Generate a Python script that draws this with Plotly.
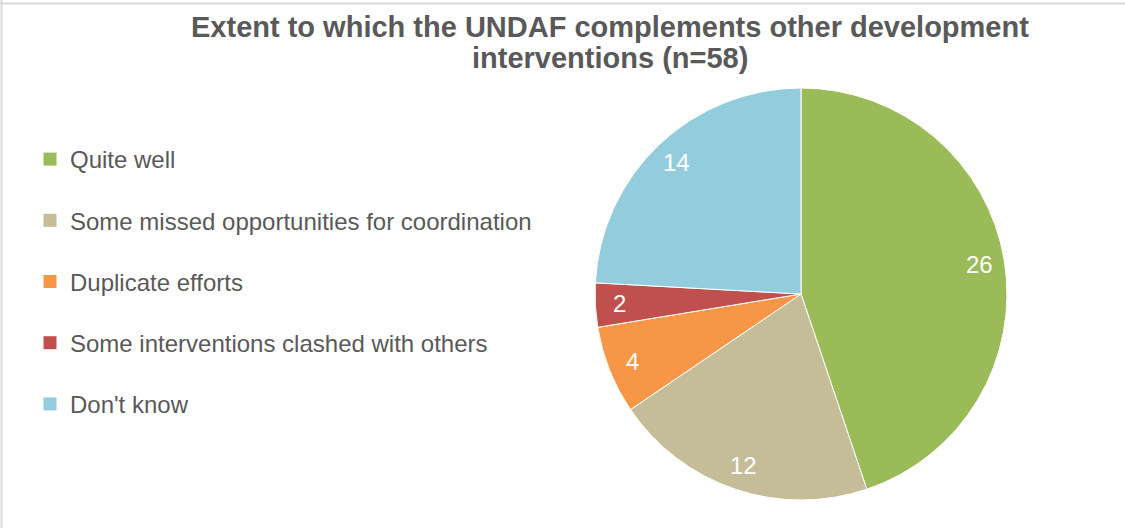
import math
import plotly.graph_objects as go

# Survey responses (n=58)
categories = [
    "Quite well",
    "Some missed opportunities for coordination",
    "Duplicate efforts",
    "Some interventions clashed with others",
    "Don't know",
]
counts = [26, 12, 4, 2, 14]
colors = ["#9BBB59", "#C4BD97", "#F79646", "#C0504D", "#93CDDD"]
title_lines = [
    "Extent to which the UNDAF complements other development",
    "interventions (n=58)",
]

W, H = 1125, 528
FONT = "Liberation Sans, Arial, sans-serif"
GREY = "#595959"

# pie placement in pixels (centre and radius)
CX, CY, R = 801, 294, 206
LABEL_R = 0.88 * R

fig = go.Figure()
fig.add_trace(
    go.Pie(
        labels=categories,
        values=counts,
        sort=False,
        direction="clockwise",
        rotation=0,
        marker=dict(colors=colors, line=dict(color="white", width=1)),
        textinfo="none",
        domain=dict(x=[(CX - R) / W, (CX + R) / W], y=[1 - (CY + R) / H, 1 - (CY - R) / H]),
        hoverinfo="label+value",
        showlegend=False,
    )
)

# legend entries, one group each so the gap between them can be set
for name, col in zip(categories, colors):
    fig.add_trace(
        go.Scatter(
            x=[None], y=[None], mode="markers", name=name, legendgroup=name,
            marker=dict(symbol="square", size=13, color=col),
        )
    )

# value labels placed near the outer edge of each slice
annotations = []
total = sum(counts)
start = 0.0
for v in counts:
    mid = (start + v / 2) / total * 2 * math.pi
    start += v
    px = CX + LABEL_R * math.sin(mid)
    py = CY - LABEL_R * math.cos(mid)
    annotations.append(dict(
        x=px / W, y=1 - py / H, xref="paper", yref="paper", text=str(v), showarrow=False,
        xanchor="center", yanchor="middle",
        font=dict(family=FONT, size=24, color="white"),
    ))

# two-line bold title
for line, base in zip(title_lines, [36.7, 68.3]):
    annotations.append(dict(
        x=610 / W, y=1 - (base - 0.35 * 29) / H, xref="paper", yref="paper",
        text=f"<b>{line}</b>", showarrow=False, xanchor="center", yanchor="middle",
        font=dict(family=FONT, size=29, color=GREY),
    ))

fig.update_layout(
    width=W,
    height=H,
    margin=dict(l=0, r=0, t=0, b=0),
    paper_bgcolor="white",
    plot_bgcolor="white",
    font=dict(family=FONT, color=GREY),
    xaxis=dict(visible=False),
    yaxis=dict(visible=False),
    annotations=annotations,
    legend=dict(
        x=30 / W,
        xanchor="left",
        y=1 - 137 / H,
        yanchor="top",
        traceorder="grouped",
        tracegroupgap=27,
        font=dict(family=FONT, size=24, color=GREY),
        bgcolor="rgba(0,0,0,0)",
    ),
    shapes=[
        dict(type="line", xref="paper", yref="paper", x0=0, x1=1, y0=1 - 3.5 / H, y1=1 - 3.5 / H,
             line=dict(color="#D9D9D9", width=2)),
        dict(type="line", xref="paper", yref="paper", x0=1.5 / W, x1=1.5 / W, y0=0, y1=1,
             line=dict(color="#D9D9D9", width=2)),
    ],
)

fig.write_html("out.html")
